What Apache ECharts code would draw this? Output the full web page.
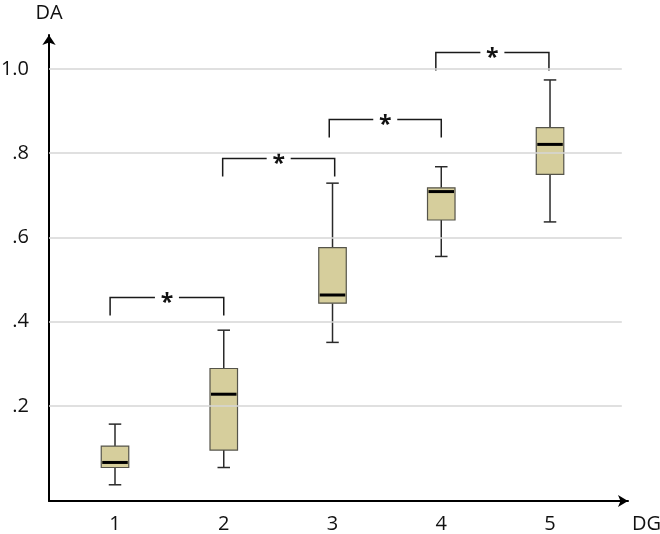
<!DOCTYPE html>
<html><head><meta charset="utf-8">
<script src="https://cdn.jsdelivr.net/npm/echarts@6/dist/echarts.min.js"></script>
<style>html,body{margin:0;padding:0;background:#fff}#c{width:660px;height:534px}</style>
</head><body><div id="c"></div>
<script>
// ---- data ----
const categories = [1, 2, 3, 4, 5];
const whiskerLow  = [0.013, 0.054, 0.351, 0.555, 0.637];
const quartile1   = [0.054, 0.0955, 0.444, 0.6415, 0.750];
const medians     = [0.066, 0.228, 0.4635, 0.709, 0.821];
const quartile3   = [0.105, 0.289, 0.576, 0.718, 0.861];
const whiskerHigh = [0.157, 0.380, 0.729, 0.768, 0.974];

const yTickValues = [0.2, 0.4, 0.6, 0.8, 1.0];
const yTickLabels = ['.2', '.4', '.6', '.8', '1.0'];
const xTickLabels = ['1', '2', '3', '4', '5'];

const bracketFrom  = [0.955, 1.99, 2.97, 3.95];
const bracketTo    = [2.0, 3.02, 4.0, 4.99];
const bracketLevel = [0.459, 0.789, 0.8805, 1.0396];
const bracketMark  = ['*', '*', '*', '*'];

// ---- chart ----
const X_MIN = 0.3931, X_MAX = 5.717, Y_MIN = -0.0255, Y_MAX = 1.0807;
const GRID_END = 5.66;
const BOX_W = 0.253, CAP_W = 0.115;
const FONT = '"Open Sans", "Noto Sans", sans-serif';

const boxData = categories.map((c, i) => [c, whiskerLow[i], quartile1[i], medians[i], quartile3[i], whiskerHigh[i]]);
const bracketData = bracketFrom.map((f, i) => [f, bracketTo[i], bracketLevel[i]]);

function renderBox(params, api) {
  const x = api.value(0);
  const lo = api.coord([x, api.value(1)]);
  const q1 = api.coord([x, api.value(2)]);
  const md = api.coord([x, api.value(3)]);
  const q3 = api.coord([x, api.value(4)]);
  const hi = api.coord([x, api.value(5)]);
  const bw = api.size([BOX_W, 0])[0];
  const cw = api.size([CAP_W, 0])[0];
  const cx = lo[0];
  const ws = { stroke: '#2a2a2a', lineWidth: 1.5 };
  return { type: 'group', children: [
    { type: 'line', shape: { x1: cx, y1: hi[1], x2: cx, y2: q3[1] }, style: ws },
    { type: 'line', shape: { x1: cx, y1: q1[1], x2: cx, y2: lo[1] }, style: ws },
    { type: 'line', shape: { x1: cx - cw / 2, y1: hi[1], x2: cx + cw / 2, y2: hi[1] }, style: ws },
    { type: 'line', shape: { x1: cx - cw / 2, y1: lo[1], x2: cx + cw / 2, y2: lo[1] }, style: ws },
    { type: 'rect', shape: { x: cx - bw / 2, y: q3[1], width: bw, height: q1[1] - q3[1] },
      style: { fill: '#d6ce9c', stroke: '#55544a', lineWidth: 1.2 } },
    { type: 'line', shape: { x1: cx - bw / 2 + 1, y1: md[1], x2: cx + bw / 2 - 1, y2: md[1] },
      style: { stroke: '#000', lineWidth: 3 } }
  ]};
}

function renderBracket(params, api) {
  const a = api.coord([api.value(0), api.value(2)]);
  const b = api.coord([api.value(1), api.value(2)]);
  const leg = 18, gap = 12;
  const mid = (a[0] + b[0]) / 2;
  const y = Math.round(a[1]) + 0.5;
  const ls = { stroke: '#1a1a1a', lineWidth: 1.5 };
  return { type: 'group', children: [
    { type: 'polyline', shape: { points: [[a[0], y + leg], [a[0], y], [mid - gap, y]] }, style: Object.assign({ fill: null }, ls) },
    { type: 'polyline', shape: { points: [[mid + gap, y], [b[0], y], [b[0], y + leg]] }, style: Object.assign({ fill: null }, ls) },
    { type: 'text', x: mid, y: y + 6, style: { text: bracketMark[params.dataIndex], font: 'bold 23px ' + FONT, fill: '#111', align: 'center', verticalAlign: 'middle' } }
  ]};
}

const chart = echarts.init(document.getElementById('c'), null, { renderer: 'canvas' });
chart.setOption({
  animation: false,
  backgroundColor: '#fff',
  grid: { left: 49, right: 32, top: 35, bottom: 33, containLabel: false, outerBoundsMode: 'none' },
  xAxis: {
    type: 'value', min: X_MIN, max: X_MAX,
    name: 'DG', nameLocation: 'end', nameGap: 4,
    nameTextStyle: { fontFamily: FONT, fontSize: 20, color: '#111', align: 'left', verticalAlign: 'top', padding: [13, 0, 0, 0] },
    axisLine: { onZero: false, lineStyle: { color: '#000', width: 2 }, symbol: ['none', 'arrow'], symbolSize: [9, 10] },
    axisTick: { show: false },
    splitLine: { show: false },
    axisLabel: { customValues: categories, formatter: v => xTickLabels[categories.indexOf(v)], fontFamily: FONT, fontSize: 20, color: '#111', margin: 13 }
  },
  yAxis: {
    type: 'value', min: Y_MIN, max: Y_MAX,
    name: 'DA', nameLocation: 'end', nameGap: 12,
    nameTextStyle: { fontFamily: FONT, fontSize: 20, color: '#111', align: 'center' },
    axisLine: { onZero: false, lineStyle: { color: '#000', width: 2 }, symbol: ['none', 'arrow'], symbolSize: [10, 10] },
    axisTick: { show: false },
    splitLine: { show: false },
    axisLabel: { customValues: yTickValues, formatter: v => yTickLabels[yTickValues.findIndex(t => Math.abs(t - v) < 1e-6)], fontFamily: FONT, fontSize: 20, color: '#111', margin: 20, padding: [10, 0, 0, 0] }
  },
  series: [
    { type: 'line', data: [], z: 1, silent: true,
      markLine: { silent: true, symbol: ['none', 'none'], label: { show: false }, animation: false,
        lineStyle: { color: '#d6d6d6', width: 1.5, type: 'solid' },
        data: yTickValues.map(v => [{ coord: [X_MIN, v] }, { coord: [GRID_END, v] }]) } },
    { type: 'custom', z: 3, data: boxData, renderItem: renderBox, encode: { x: 0, y: [1, 2, 3, 4, 5] } },
    { type: 'custom', z: 4, data: bracketData, renderItem: renderBracket, encode: { x: [0, 1], y: 2 } }
  ]
});
</script></body></html>
